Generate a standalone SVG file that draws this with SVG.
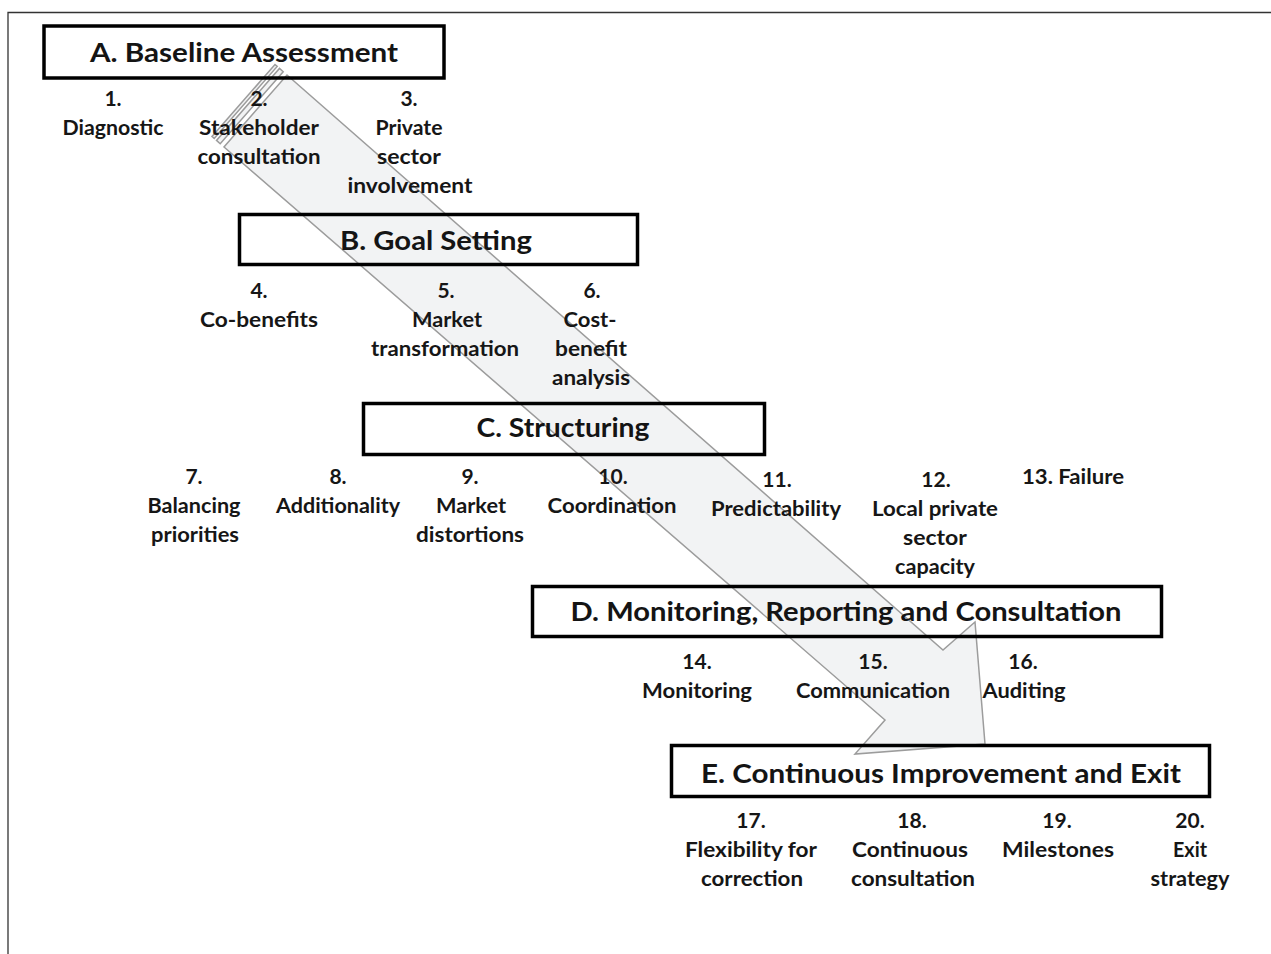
<svg xmlns="http://www.w3.org/2000/svg" width="1271" height="954" viewBox="0 0 1271 954">
<style>
.frame{stroke:#333;stroke-width:1.3;fill:none}
.box{fill:none;stroke:#000;stroke-width:3.5}
.h{font-family:Lato,"Liberation Sans",sans-serif;font-weight:700;font-size:27px;fill:#141414;text-anchor:middle}
.t{font-family:Lato,"Liberation Sans",sans-serif;font-weight:700;font-size:21px;fill:#161616;text-anchor:middle}
.arr{fill:#f2f3f4;stroke:#9c9c9c;stroke-width:1.5;stroke-linejoin:miter}
</style>
<rect width="1271" height="954" fill="#fff"/>
<path class="frame" d="M8 954 V12.5 H1271"/>
<g id="connectors">
<polygon class="arr" points="275,64.5 277.2,66.4 214.2,138.4 212,136.5"/>
<polygon class="arr" points="279.5,68.4 283.2,71.7 220.2,143.7 216.5,140.4"/>
<polygon class="arr" points="287,75 943,650 975,622 985,744 855,754 885,720 224,147"/>
</g>
<g id="nodeA"><rect class="box" x="44" y="26" width="400" height="52"/><text class="h" x="244" y="62" textLength="308" lengthAdjust="spacingAndGlyphs">A. Baseline Assessment</text></g>
<g id="item1"><text class="t" x="113" y="106">1.</text><text class="t" x="113" y="135" textLength="101" lengthAdjust="spacingAndGlyphs">Diagnostic</text></g>
<g id="item2"><text class="t" x="259" y="106">2.</text><text class="t" x="259" y="135" textLength="120" lengthAdjust="spacingAndGlyphs">Stakeholder</text><text class="t" x="259" y="164" textLength="123" lengthAdjust="spacingAndGlyphs">consultation</text></g>
<g id="item3"><text class="t" x="409" y="106">3.</text><text class="t" x="409" y="135" textLength="67" lengthAdjust="spacingAndGlyphs">Private</text><text class="t" x="409" y="164" textLength="64" lengthAdjust="spacingAndGlyphs">sector</text><text class="t" x="410" y="193" textLength="125" lengthAdjust="spacingAndGlyphs">involvement</text></g>
<g id="nodeB"><rect class="box" x="239.5" y="214.5" width="398" height="50"/><text class="h" x="436" y="250" textLength="192" lengthAdjust="spacingAndGlyphs">B. Goal Setting</text></g>
<g id="item4"><text class="t" x="259" y="298">4.</text><text class="t" x="259" y="327" textLength="118" lengthAdjust="spacingAndGlyphs">Co-benefits</text></g>
<g id="item5"><text class="t" x="446" y="298">5.</text><text class="t" x="447" y="327" textLength="70" lengthAdjust="spacingAndGlyphs">Market</text><text class="t" x="445" y="356" textLength="148" lengthAdjust="spacingAndGlyphs">transformation</text></g>
<g id="item6"><text class="t" x="592" y="298">6.</text><text class="t" x="590" y="327" textLength="53" lengthAdjust="spacingAndGlyphs">Cost-</text><text class="t" x="591" y="356" textLength="72" lengthAdjust="spacingAndGlyphs">benefit</text><text class="t" x="591" y="385" textLength="78" lengthAdjust="spacingAndGlyphs">analysis</text></g>
<g id="nodeC"><rect class="box" x="363.5" y="403.5" width="401" height="51"/><text class="h" x="563" y="437" textLength="173" lengthAdjust="spacingAndGlyphs">C. Structuring</text></g>
<g id="item7"><text class="t" x="194" y="484">7.</text><text class="t" x="194" y="513" textLength="93" lengthAdjust="spacingAndGlyphs">Balancing</text><text class="t" x="195" y="542" textLength="88" lengthAdjust="spacingAndGlyphs">priorities</text></g>
<g id="item8"><text class="t" x="338" y="484">8.</text><text class="t" x="338" y="513" textLength="124" lengthAdjust="spacingAndGlyphs">Additionality</text></g>
<g id="item9"><text class="t" x="470" y="484">9.</text><text class="t" x="471" y="513" textLength="70" lengthAdjust="spacingAndGlyphs">Market</text><text class="t" x="470" y="542" textLength="108" lengthAdjust="spacingAndGlyphs">distortions</text></g>
<g id="item10"><text class="t" x="613" y="484">10.</text><text class="t" x="612" y="513" textLength="129" lengthAdjust="spacingAndGlyphs">Coordination</text></g>
<g id="item11"><text class="t" x="777" y="487">11.</text><text class="t" x="776" y="516" textLength="130" lengthAdjust="spacingAndGlyphs">Predictability</text></g>
<g id="item12"><text class="t" x="936" y="487">12.</text><text class="t" x="935" y="516" textLength="126" lengthAdjust="spacingAndGlyphs">Local private</text><text class="t" x="935" y="545" textLength="64" lengthAdjust="spacingAndGlyphs">sector</text><text class="t" x="935" y="574" textLength="80" lengthAdjust="spacingAndGlyphs">capacity</text></g>
<g id="item13"><text class="t" x="1073" y="484" textLength="102" lengthAdjust="spacingAndGlyphs">13. Failure</text></g>
<g id="nodeD"><rect class="box" x="532.5" y="586.5" width="629" height="50"/><text class="h" x="846" y="621" textLength="551" lengthAdjust="spacingAndGlyphs">D. Monitoring, Reporting and Consultation</text></g>
<g id="item14"><text class="t" x="697" y="669">14.</text><text class="t" x="697" y="698" textLength="110" lengthAdjust="spacingAndGlyphs">Monitoring</text></g>
<g id="item15"><text class="t" x="873" y="669">15.</text><text class="t" x="873" y="698" textLength="154" lengthAdjust="spacingAndGlyphs">Communication</text></g>
<g id="item16"><text class="t" x="1023" y="669">16.</text><text class="t" x="1024" y="698" textLength="83" lengthAdjust="spacingAndGlyphs">Auditing</text></g>
<g id="nodeE"><rect class="box" x="671.5" y="745.5" width="538" height="51"/><text class="h" x="941" y="783" textLength="480" lengthAdjust="spacingAndGlyphs">E. Continuous Improvement and Exit</text></g>
<g id="item17"><text class="t" x="751" y="828">17.</text><text class="t" x="751" y="857" textLength="132" lengthAdjust="spacingAndGlyphs">Flexibility for</text><text class="t" x="752" y="886" textLength="102" lengthAdjust="spacingAndGlyphs">correction</text></g>
<g id="item18"><text class="t" x="912" y="828">18.</text><text class="t" x="910" y="857" textLength="116" lengthAdjust="spacingAndGlyphs">Continuous</text><text class="t" x="913" y="886" textLength="124" lengthAdjust="spacingAndGlyphs">consultation</text></g>
<g id="item19"><text class="t" x="1057" y="828">19.</text><text class="t" x="1058" y="857" textLength="112" lengthAdjust="spacingAndGlyphs">Milestones</text></g>
<g id="item20"><text class="t" x="1190" y="828">20.</text><text class="t" x="1190" y="857" textLength="34" lengthAdjust="spacingAndGlyphs">Exit</text><text class="t" x="1190" y="886" textLength="79" lengthAdjust="spacingAndGlyphs">strategy</text></g>
</svg>
